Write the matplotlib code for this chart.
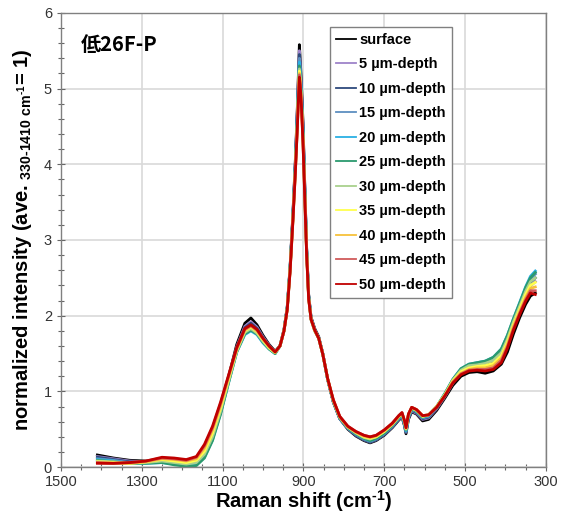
import matplotlib
matplotlib.use("Agg")
import matplotlib.pyplot as plt
from matplotlib.ticker import MultipleLocator

plt.rcParams['font.family'] = ['Liberation Sans', 'DejaVu Sans']
plt.rcParams['mathtext.fontset'] = 'custom'
plt.rcParams['mathtext.rm'] = 'Liberation Sans'
plt.rcParams['mathtext.bf'] = 'Liberation Sans:bold'
plt.rcParams['mathtext.default'] = 'bf'

# Raman shift axis (cm-1), shared by all spectra
shift = [1410, 1370, 1330, 1290, 1250, 1220, 1190, 1165, 1145, 1125, 1105, 1085, 1065, 1045,
         1030, 1015, 1000, 985, 970, 958, 948, 940, 933, 926, 920, 915, 912, 910, 908, 905,
         901, 897, 892, 887, 881, 872, 862, 852, 840, 826, 810, 790, 770, 750, 735, 720, 700,
         680, 664, 656, 650, 646, 640, 632, 620, 605, 590, 570, 550, 530, 510, 490, 470, 450,
         430, 410, 395, 380, 365, 350, 338, 326]

surface = [0.16, 0.12, 0.09, 0.08, 0.10, 0.08, 0.06, 0.09, 0.24, 0.49, 0.81, 1.20, 1.62, 1.90,
           1.97, 1.88, 1.74, 1.62, 1.53, 1.60, 1.82, 2.12, 2.65, 3.35, 4.05, 4.75, 5.25, 5.58, 5.40, 5.08,
           4.55, 3.80, 2.90, 2.28, 1.98, 1.83, 1.72, 1.50, 1.16, 0.86, 0.64, 0.50, 0.41, 0.35, 0.32, 0.35, 0.42,
           0.52, 0.62, 0.66, 0.55, 0.44, 0.63, 0.73, 0.70, 0.61, 0.63, 0.75, 0.91, 1.08, 1.20, 1.25, 1.26, 1.24,
           1.27, 1.36, 1.52, 1.76, 1.97, 2.15, 2.26, 2.30]
d05 = [0.14, 0.11, 0.08, 0.07, 0.09, 0.07, 0.05, 0.07, 0.21, 0.46, 0.79, 1.18, 1.59, 1.86,
       1.92, 1.85, 1.72, 1.61, 1.52, 1.60, 1.81, 2.11, 2.64, 3.33, 4.02, 4.72, 5.20, 5.50, 5.34, 5.03,
       4.51, 3.78, 2.89, 2.27, 1.97, 1.82, 1.71, 1.50, 1.16, 0.86, 0.64, 0.51, 0.42, 0.36, 0.33, 0.36, 0.43,
       0.53, 0.63, 0.67, 0.56, 0.46, 0.65, 0.74, 0.71, 0.63, 0.65, 0.77, 0.93, 1.11, 1.24, 1.30, 1.31, 1.31,
       1.35, 1.45, 1.62, 1.85, 2.06, 2.26, 2.39, 2.45]
d10 = [0.13, 0.10, 0.07, 0.06, 0.08, 0.06, 0.04, 0.06, 0.19, 0.43, 0.77, 1.17, 1.57, 1.84,
       1.90, 1.83, 1.71, 1.60, 1.52, 1.60, 1.81, 2.11, 2.63, 3.32, 4.00, 4.69, 5.16, 5.45, 5.30, 5.00,
       4.49, 3.76, 2.88, 2.27, 1.97, 1.82, 1.71, 1.50, 1.16, 0.86, 0.64, 0.51, 0.42, 0.36, 0.33, 0.36, 0.43,
       0.53, 0.63, 0.67, 0.56, 0.46, 0.65, 0.75, 0.72, 0.64, 0.66, 0.78, 0.94, 1.13, 1.26, 1.32, 1.34, 1.34,
       1.38, 1.49, 1.66, 1.89, 2.10, 2.30, 2.44, 2.50]
d15 = [0.11, 0.09, 0.06, 0.06, 0.07, 0.05, 0.03, 0.04, 0.15, 0.39, 0.73, 1.14, 1.54, 1.79,
       1.83, 1.77, 1.66, 1.57, 1.50, 1.60, 1.80, 2.10, 2.62, 3.31, 3.98, 4.66, 5.12, 5.40, 5.26, 4.96,
       4.45, 3.73, 2.86, 2.26, 1.96, 1.81, 1.70, 1.49, 1.16, 0.86, 0.64, 0.51, 0.43, 0.37, 0.34, 0.37, 0.44,
       0.54, 0.64, 0.68, 0.57, 0.47, 0.66, 0.76, 0.73, 0.65, 0.67, 0.79, 0.96, 1.15, 1.28, 1.35, 1.37, 1.38,
       1.42, 1.53, 1.71, 1.93, 2.14, 2.35, 2.49, 2.55]
d20 = [0.10, 0.08, 0.05, 0.05, 0.06, 0.04, 0.02, 0.03, 0.13, 0.36, 0.71, 1.12, 1.52, 1.75,
       1.80, 1.75, 1.64, 1.56, 1.50, 1.60, 1.80, 2.10, 2.62, 3.30, 3.96, 4.63, 5.09, 5.35, 5.22, 4.93,
       4.42, 3.71, 2.85, 2.25, 1.95, 1.80, 1.70, 1.49, 1.16, 0.87, 0.65, 0.52, 0.44, 0.38, 0.35, 0.38, 0.45,
       0.55, 0.65, 0.69, 0.58, 0.48, 0.67, 0.77, 0.74, 0.66, 0.68, 0.80, 0.97, 1.16, 1.30, 1.36, 1.38, 1.40,
       1.45, 1.56, 1.74, 1.96, 2.17, 2.38, 2.52, 2.59]
d25 = [0.09, 0.07, 0.05, 0.05, 0.06, 0.03, 0.01, 0.02, 0.12, 0.35, 0.70, 1.12, 1.52, 1.76,
       1.81, 1.76, 1.65, 1.56, 1.50, 1.60, 1.80, 2.10, 2.62, 3.30, 3.95, 4.60, 5.05, 5.30, 5.18, 4.90,
       4.40, 3.70, 2.85, 2.25, 1.95, 1.80, 1.70, 1.49, 1.16, 0.87, 0.65, 0.52, 0.44, 0.38, 0.35, 0.38, 0.45,
       0.55, 0.65, 0.70, 0.59, 0.49, 0.68, 0.77, 0.74, 0.66, 0.69, 0.80, 0.97, 1.16, 1.30, 1.36, 1.38, 1.40,
       1.45, 1.56, 1.74, 1.96, 2.16, 2.37, 2.50, 2.57]
d30 = [0.08, 0.07, 0.05, 0.06, 0.08, 0.06, 0.04, 0.06, 0.17, 0.40, 0.74, 1.14, 1.53, 1.78,
       1.83, 1.77, 1.66, 1.57, 1.51, 1.60, 1.80, 2.09, 2.61, 3.28, 3.93, 4.56, 5.00, 5.26, 5.14, 4.86,
       4.36, 3.68, 2.84, 2.24, 1.95, 1.80, 1.70, 1.49, 1.16, 0.88, 0.66, 0.53, 0.45, 0.39, 0.37, 0.40, 0.47,
       0.56, 0.66, 0.71, 0.60, 0.50, 0.69, 0.78, 0.75, 0.67, 0.69, 0.80, 0.96, 1.15, 1.28, 1.34, 1.35, 1.37,
       1.41, 1.51, 1.69, 1.92, 2.12, 2.32, 2.45, 2.50]
d35 = [0.07, 0.06, 0.05, 0.07, 0.10, 0.08, 0.06, 0.09, 0.21, 0.45, 0.78, 1.17, 1.55, 1.80,
       1.85, 1.79, 1.68, 1.58, 1.51, 1.60, 1.80, 2.09, 2.60, 3.27, 3.91, 4.53, 4.96, 5.23, 5.11, 4.83,
       4.33, 3.66, 2.83, 2.23, 1.95, 1.80, 1.70, 1.49, 1.17, 0.88, 0.66, 0.53, 0.46, 0.40, 0.38, 0.40, 0.47,
       0.57, 0.67, 0.71, 0.61, 0.51, 0.69, 0.78, 0.75, 0.67, 0.69, 0.80, 0.95, 1.14, 1.26, 1.31, 1.33, 1.34,
       1.37, 1.47, 1.65, 1.88, 2.08, 2.28, 2.40, 2.44]
d40 = [0.06, 0.05, 0.05, 0.07, 0.11, 0.10, 0.08, 0.11, 0.25, 0.49, 0.81, 1.19, 1.56, 1.81,
       1.86, 1.80, 1.69, 1.59, 1.52, 1.60, 1.80, 2.08, 2.59, 3.26, 3.90, 4.51, 4.93, 5.20, 5.08, 4.81,
       4.31, 3.64, 2.82, 2.23, 1.95, 1.81, 1.70, 1.49, 1.17, 0.88, 0.66, 0.53, 0.46, 0.41, 0.39, 0.41, 0.48,
       0.57, 0.67, 0.71, 0.61, 0.51, 0.70, 0.79, 0.76, 0.68, 0.69, 0.80, 0.95, 1.13, 1.24, 1.29, 1.31, 1.31,
       1.34, 1.44, 1.62, 1.86, 2.05, 2.24, 2.36, 2.38]
d45 = [0.06, 0.05, 0.06, 0.08, 0.12, 0.11, 0.09, 0.13, 0.28, 0.52, 0.84, 1.21, 1.57, 1.82,
       1.87, 1.81, 1.70, 1.60, 1.52, 1.60, 1.80, 2.08, 2.58, 3.25, 3.89, 4.49, 4.91, 5.18, 5.06, 4.79,
       4.29, 3.63, 2.81, 2.22, 1.95, 1.81, 1.70, 1.49, 1.17, 0.89, 0.67, 0.54, 0.47, 0.42, 0.40, 0.42, 0.49,
       0.58, 0.68, 0.72, 0.62, 0.52, 0.70, 0.79, 0.76, 0.68, 0.69, 0.79, 0.94, 1.12, 1.23, 1.28, 1.29, 1.29,
       1.31, 1.41, 1.59, 1.83, 2.03, 2.21, 2.33, 2.33]
d50 = [0.05, 0.05, 0.06, 0.08, 0.13, 0.12, 0.10, 0.14, 0.30, 0.54, 0.86, 1.22, 1.58, 1.83,
       1.88, 1.82, 1.70, 1.60, 1.52, 1.60, 1.80, 2.08, 2.58, 3.25, 3.88, 4.48, 4.90, 5.15, 5.05, 4.78,
       4.28, 3.62, 2.80, 2.22, 1.95, 1.81, 1.70, 1.49, 1.17, 0.89, 0.67, 0.54, 0.47, 0.42, 0.40, 0.42, 0.49,
       0.58, 0.68, 0.72, 0.62, 0.52, 0.70, 0.79, 0.76, 0.68, 0.69, 0.79, 0.94, 1.11, 1.22, 1.27, 1.28, 1.27,
       1.29, 1.38, 1.57, 1.81, 2.01, 2.19, 2.30, 2.28]

labels = ['surface', '5 µm-depth', '10 µm-depth', '15 µm-depth', '20 µm-depth', '25 µm-depth',
          '30 µm-depth', '35 µm-depth', '40 µm-depth', '45 µm-depth', '50 µm-depth']
spectra = [surface, d05, d10, d15, d20, d25, d30, d35, d40, d45, d50]
colors = ['#000000', '#9e83c9', '#2e4a7d', '#5d8fc0', '#2ab0e4', '#2b9a6e',
          '#a9d18e', '#ffff4d', '#f7c13b', '#d05a5a', '#c00000']
xticks = [1500, 1300, 1100, 900, 700, 500, 300]

fig = plt.figure(figsize=(5.65, 5.15), dpi=100)
ax = fig.add_axes([0.108, 0.093, 0.858, 0.882])

for y, c, lab in zip(spectra, colors, labels):
    ax.plot(shift, y, color=c, lw=2.0, label=lab)

ax.set_xlim(1500, 300)
ax.set_ylim(0, 6)
ax.set_xticks(xticks)
ax.xaxis.set_minor_locator(MultipleLocator(50))
ax.yaxis.set_major_locator(MultipleLocator(1))
ax.yaxis.set_minor_locator(MultipleLocator(0.2))
ax.grid(True, which='major', color='#d9d9d9', lw=1.2)
ax.set_axisbelow(True)
ax.tick_params(which='major', direction='inout', length=6, width=0.8, color='#666666',
               labelsize=10.5, labelcolor='#333333')
ax.tick_params(which='minor', direction='inout', length=4, width=0.8, color='#666666')
ax.tick_params(axis='x', pad=3)
for sp in ax.spines.values():
    sp.set_color('#808080')
    sp.set_linewidth(1.0)

ax.set_xlabel('Raman shift (cm$^{\u20101}$)', fontsize=14.5, fontweight='bold', labelpad=-1)
ax.set_ylabel('normalized intensity (ave. $_{330\u20101410\\ cm^{\u20101}}$= 1)',
              fontsize=14.5, fontweight='bold', labelpad=7)

ax.text(0.04, 0.93, '低26F-P', transform=ax.transAxes, fontsize=14.5, fontweight='bold',
        family=['Noto Sans CJK JP', 'DejaVu Sans'], va='center', ha='left')

leg = ax.legend(loc='upper left', bbox_to_anchor=(0.555, 0.969), borderaxespad=0,
                fancybox=False, framealpha=1, edgecolor='#808080', handlelength=1.4,
                handletextpad=0.2, labelspacing=0.72, borderpad=0.4,
                prop={'weight': 'bold', 'size': 10.5})
leg.get_frame().set_linewidth(1.0)
for line in leg.get_lines():
    line.set_linewidth(1.3)

fig.savefig('out.png', dpi=100)
